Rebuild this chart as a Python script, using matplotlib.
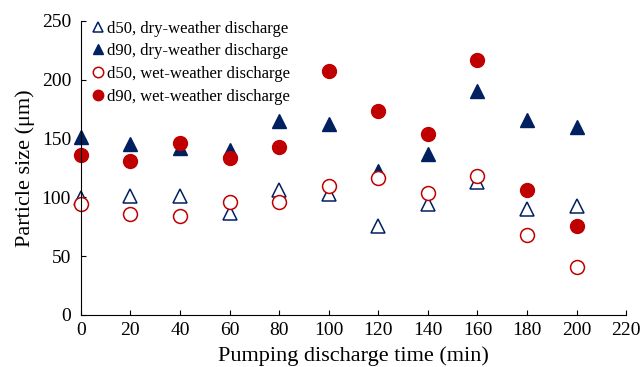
import matplotlib.pyplot as plt

# data
time_min = [0, 20, 40, 60, 80, 100, 120, 140, 160, 180, 200]
d50_dry = [99, 101, 101, 87, 106, 103, 76, 94, 113, 90, 93]
d90_dry = [151, 145, 142, 140, 165, 162, 122, 137, 190, 166, 160]
d50_wet = [94, 86, 84, 96, 96, 110, 116, 104, 118, 68, 41]
d90_wet = [136, 131, 146, 133, 143, 207, 173, 154, 217, 106, 76]

blue = "#002060"
red = "#C00000"

plt.rcParams["font.family"] = ["Liberation Serif", "DejaVu Serif"]
plt.rcParams["font.size"] = 12

fig = plt.figure(figsize=(6.41, 3.67), dpi=100)
ax = fig.add_axes([0.126, 0.142, 0.851, 0.801])

ax.plot(time_min, d50_dry, "^", ms=10, mfc="white", mec=blue, mew=1.1,
        label="d50, dry-weather discharge", clip_on=False)
ax.plot(time_min, d90_dry, "^", ms=10, mfc=blue, mec=blue,
        label="d90, dry-weather discharge", clip_on=False)
ax.plot(time_min, d50_wet, "o", ms=10, mfc="white", mec=red, mew=1.1,
        label="d50, wet-weather discharge", clip_on=False)
ax.plot(time_min, d90_wet, "o", ms=10, mfc=red, mec=red,
        label="d90, wet-weather discharge", clip_on=False)

ax.set_xlim(0, 220)
ax.set_ylim(0, 250)
ax.set_xticks(range(0, 221, 20))
ax.set_yticks(range(0, 251, 50))
ax.spines["top"].set_visible(False)
ax.spines["right"].set_visible(False)
ax.tick_params(direction="in", length=3.5, labelsize=14)
ax.tick_params(axis="y", pad=7)
ax.tick_params(axis="x", pad=5)

ax.set_xlabel("Pumping discharge time (min)", fontsize=16, labelpad=5)
ax.set_ylabel("Particle size (μm)", fontsize=16, labelpad=5)

ax.legend(loc="upper left", frameon=False, handletextpad=0.1,
          handlelength=0.9, labelspacing=0.4, borderaxespad=0.2,
          markerscale=0.75, bbox_to_anchor=(0.0, 1.035), fontsize=12)

fig.savefig("out.png", dpi=100)
